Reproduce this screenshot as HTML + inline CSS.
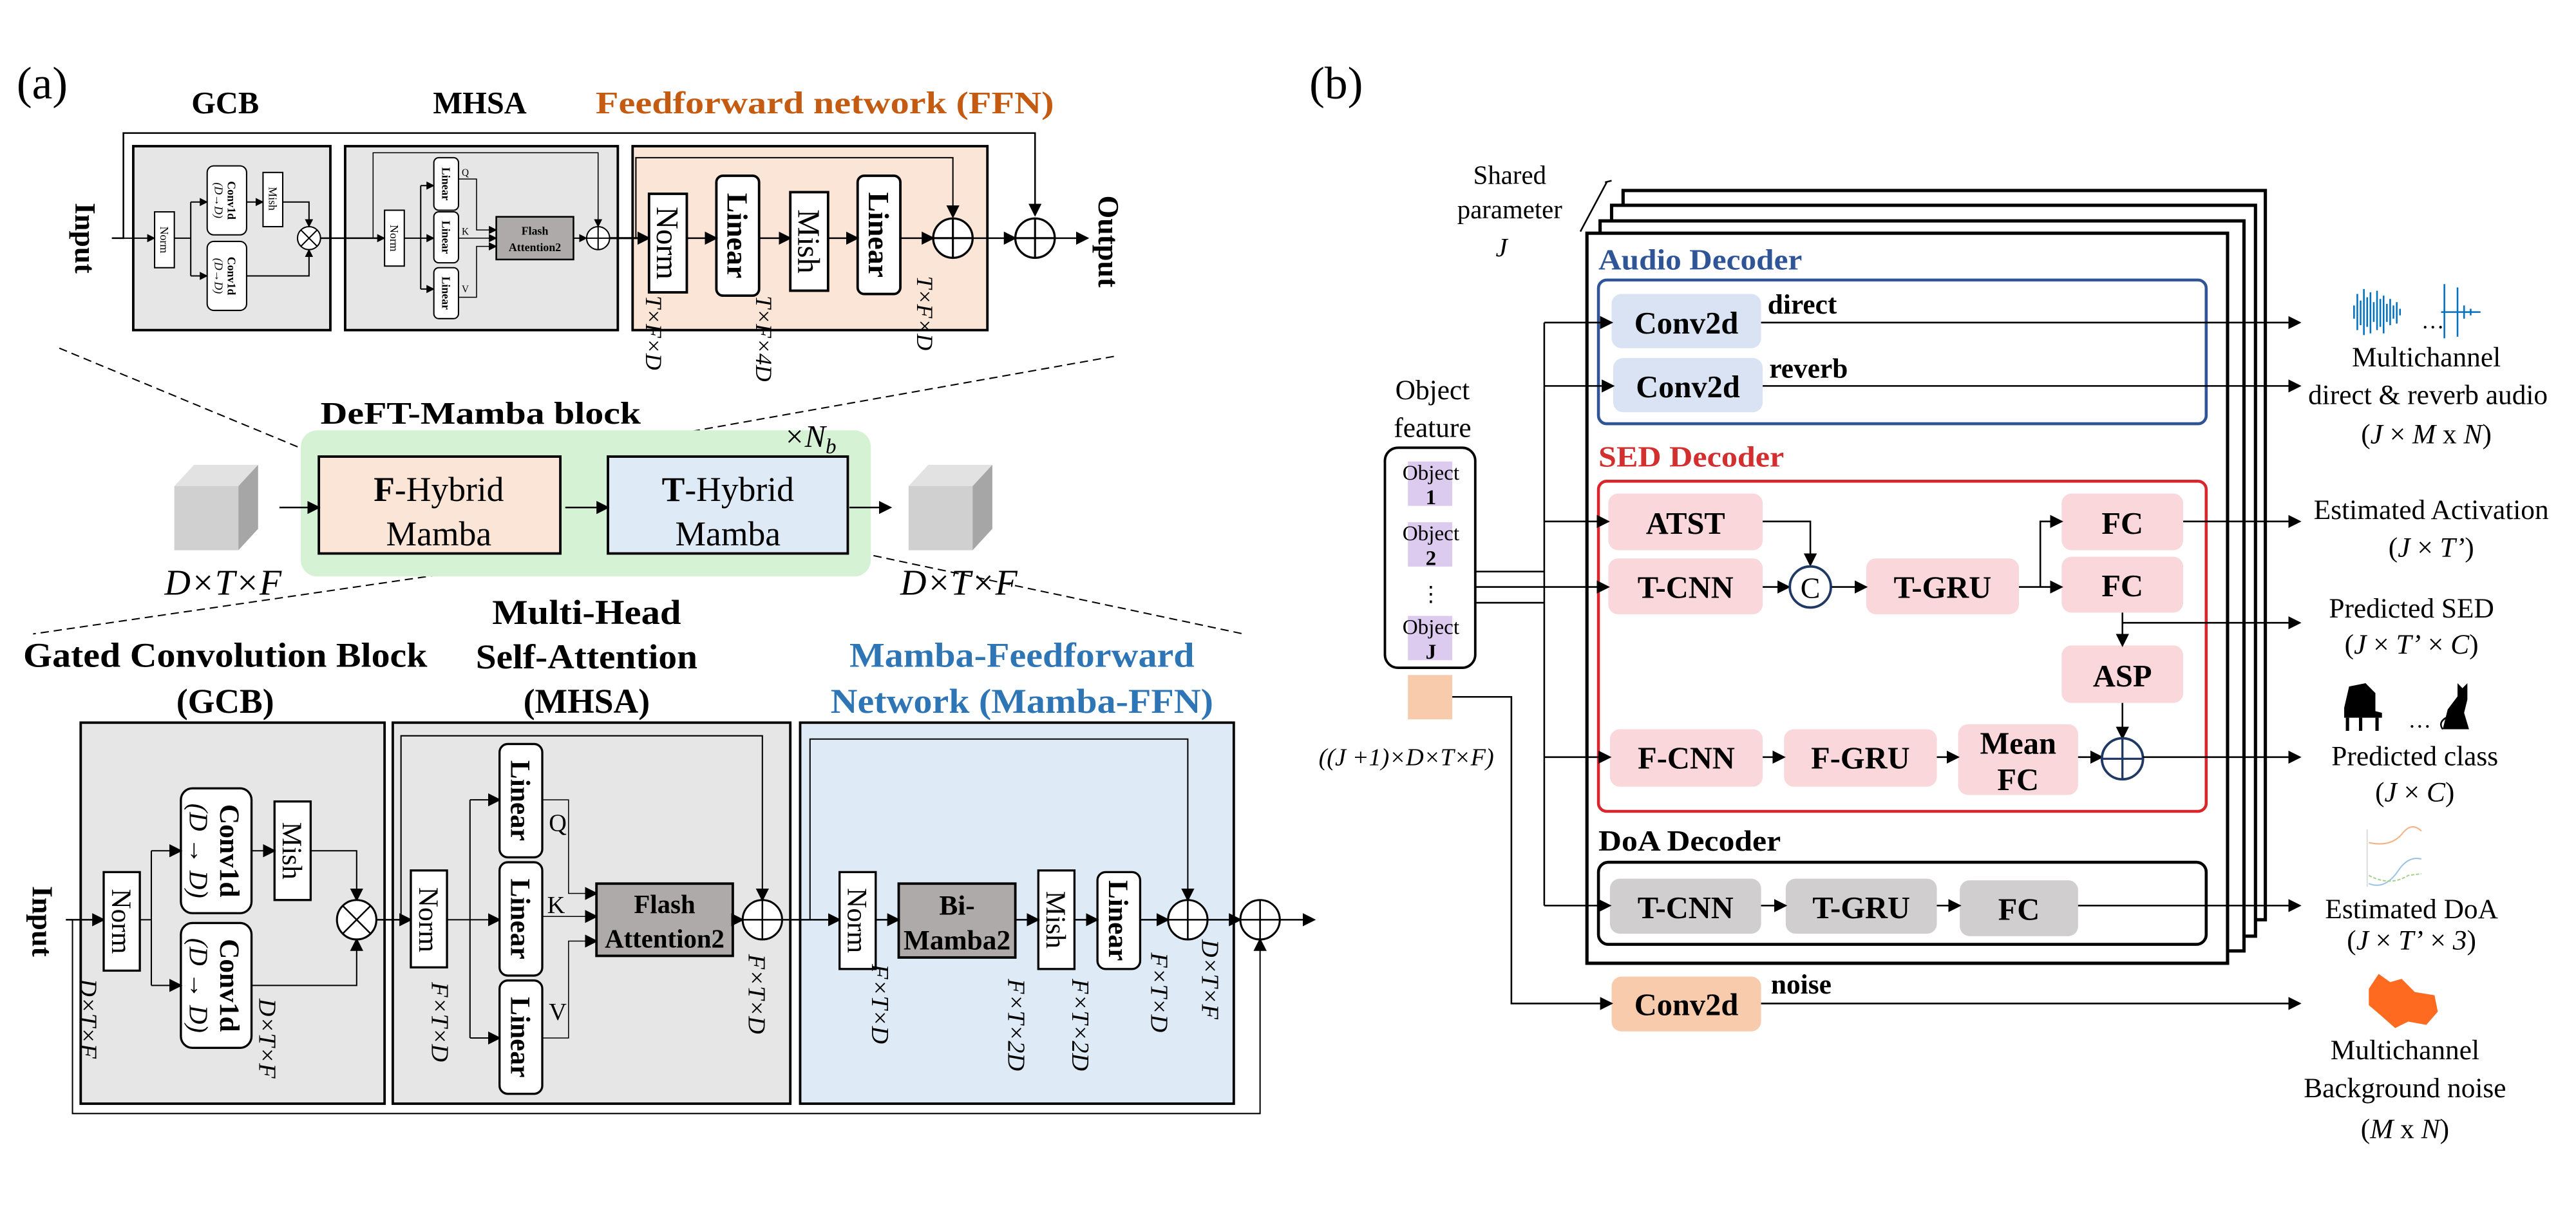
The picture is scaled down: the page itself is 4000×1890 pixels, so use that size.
<!DOCTYPE html>
<html><head><meta charset="utf-8"><style>
html,body{margin:0;padding:0;background:#fff;}
svg{display:block;}
text{font-family:"Liberation Serif",serif;}
.b{font-weight:bold;}
.i{font-style:italic;}
</style></head><body>
<svg width="4000" height="1890" viewBox="0 0 1568 741" xmlns="http://www.w3.org/2000/svg">
<defs>
<marker id="a" markerWidth="8" markerHeight="8" refX="7" refY="4" orient="auto" markerUnits="userSpaceOnUse"><path d="M0,0 L8,4 L0,8 z" fill="#000"/></marker>
<marker id="s" markerWidth="5" markerHeight="5" refX="4.5" refY="2.5" orient="auto" markerUnits="userSpaceOnUse"><path d="M0,0 L5,2.5 L0,5 z" fill="#000"/></marker>
</defs>
<rect width="1568" height="741" fill="#fff"/>

<!-- ========== (a) TOP ========== -->
<text x="10" y="60" font-size="28">(a)</text>
<text x="137" y="69" font-size="19" class="b" text-anchor="middle">GCB</text>
<text x="292" y="69" font-size="19" class="b" text-anchor="middle">MHSA</text>
<text x="502" y="69" font-size="19" class="b" text-anchor="middle" fill="#C55A11" textLength="279" lengthAdjust="spacingAndGlyphs">Feedforward network (FFN)</text>

<!-- boxes -->
<rect x="81" y="89" width="120" height="112" fill="#e7e6e6" stroke="#000" stroke-width="1.5"/>
<rect x="210" y="89" width="166" height="112" fill="#e7e6e6" stroke="#000" stroke-width="1.5"/>
<rect x="385" y="89" width="216" height="112" fill="#fbe5d6" stroke="#000" stroke-width="1.5"/>

<!-- outer skip -->
<polyline points="68,145 75,145 75,81 630,81 630,131" fill="none" stroke="#000" stroke-width="1" marker-end="url(#a)"/>
<text transform="translate(52,145) rotate(90)" font-size="18" class="b" text-anchor="middle" dy="0.35em">Input</text>
<line x1="68" y1="145" x2="94" y2="145" stroke="#000" stroke-width="0.8" marker-end="url(#s)"/>
<!-- GCB small -->
<rect x="94" y="129" width="12" height="34" fill="#fff" stroke="#000" stroke-width="0.8"/>
<text transform="translate(100,146) rotate(90)" font-size="7" text-anchor="middle" dy="0.35em">Norm</text>
<rect x="126" y="101" width="24" height="42" rx="4" fill="#fff" stroke="#000" stroke-width="0.8"/>
<rect x="126" y="147" width="24" height="42" rx="4" fill="#fff" stroke="#000" stroke-width="0.8"/>
<text transform="translate(141,122) rotate(90)" font-size="7" class="b" text-anchor="middle" dy="0.35em">Conv1d</text>
<text transform="translate(133,122) rotate(90)" font-size="7" class="i" text-anchor="middle" dy="0.35em">(D→D)</text>
<text transform="translate(141,168) rotate(90)" font-size="7" class="b" text-anchor="middle" dy="0.35em">Conv1d</text>
<text transform="translate(133,168) rotate(90)" font-size="7" class="i" text-anchor="middle" dy="0.35em">(D→D)</text>
<rect x="160" y="105" width="12" height="33" fill="#fff" stroke="#000" stroke-width="0.8"/>
<text transform="translate(166,121) rotate(90)" font-size="7" text-anchor="middle" dy="0.35em">Mish</text>
<polyline points="106,145 116,145" stroke="#000" stroke-width="0.8" fill="none"/>
<polyline points="116,123 116,168" stroke="#000" stroke-width="0.8" fill="none"/>
<line x1="116" y1="123" x2="126" y2="123" stroke="#000" stroke-width="0.8" marker-end="url(#s)"/>
<line x1="116" y1="168" x2="126" y2="168" stroke="#000" stroke-width="0.8" marker-end="url(#s)"/>
<line x1="150" y1="123" x2="160" y2="123" stroke="#000" stroke-width="0.8" marker-end="url(#s)"/>
<polyline points="172,123 188,123 188,138" stroke="#000" stroke-width="0.8" fill="none" marker-end="url(#s)"/>
<polyline points="150,168 188,168 188,152" stroke="#000" stroke-width="0.8" fill="none" marker-end="url(#s)"/>
<circle cx="188" cy="145" r="7" fill="#fff" stroke="#000" stroke-width="0.8"/>
<path d="M183,140 L193,150 M193,140 L183,150" stroke="#000" stroke-width="0.8"/>
<line x1="195" y1="145" x2="234" y2="145" stroke="#000" stroke-width="1" marker-end="url(#s)"/>
<!-- MHSA small -->
<polyline points="227,145 227,93 364,93 364,138" fill="none" stroke="#000" stroke-width="0.6" marker-end="url(#s)"/>
<rect x="234" y="128" width="12" height="34" fill="#fff" stroke="#000" stroke-width="0.8"/>
<text transform="translate(240,145) rotate(90)" font-size="7" text-anchor="middle" dy="0.35em">Norm</text>
<line x1="246" y1="145" x2="256" y2="145" stroke="#000" stroke-width="0.8"/>
<line x1="256" y1="113" x2="256" y2="176" stroke="#000" stroke-width="0.8"/>
<line x1="256" y1="113" x2="264" y2="113" stroke="#000" stroke-width="0.8" marker-end="url(#s)"/>
<line x1="256" y1="145" x2="264" y2="145" stroke="#000" stroke-width="0.8" marker-end="url(#s)"/>
<line x1="256" y1="176" x2="264" y2="176" stroke="#000" stroke-width="0.8" marker-end="url(#s)"/>
<rect x="264" y="96" width="15" height="32" rx="3" fill="#fff" stroke="#000" stroke-width="0.8"/>
<rect x="264" y="129" width="15" height="31" rx="3" fill="#fff" stroke="#000" stroke-width="0.8"/>
<rect x="264" y="163" width="15" height="31" rx="3" fill="#fff" stroke="#000" stroke-width="0.8"/>
<text transform="translate(271.5,112) rotate(90)" font-size="7" class="b" text-anchor="middle" dy="0.35em">Linear</text>
<text transform="translate(271.5,144.5) rotate(90)" font-size="7" class="b" text-anchor="middle" dy="0.35em">Linear</text>
<text transform="translate(271.5,178.5) rotate(90)" font-size="7" class="b" text-anchor="middle" dy="0.35em">Linear</text>
<polyline points="279,109 290,109 290,140 302,140" fill="none" stroke="#000" stroke-width="0.6" marker-end="url(#s)"/>
<line x1="279" y1="145" x2="302" y2="145" stroke="#000" stroke-width="0.6" marker-end="url(#s)"/>
<polyline points="279,181 290,181 290,150 302,150" fill="none" stroke="#000" stroke-width="0.6" marker-end="url(#s)"/>
<text x="281" y="107" font-size="6">Q</text><text x="281" y="143" font-size="6">K</text><text x="281" y="178" font-size="6">V</text>
<rect x="302" y="132" width="47" height="26" fill="#aeaaaa" stroke="#000" stroke-width="1"/>
<text x="325.5" y="143" font-size="7" class="b" text-anchor="middle">Flash</text>
<text x="325.5" y="153" font-size="7" class="b" text-anchor="middle">Attention2</text>
<line x1="349" y1="145" x2="357" y2="145" stroke="#000" stroke-width="0.8" marker-end="url(#s)"/>
<circle cx="364" cy="145" r="7" fill="#fff" stroke="#000" stroke-width="0.8"/>
<path d="M364,138 V152 M357,145 H371" stroke="#000" stroke-width="0.8"/>
<line x1="371" y1="145" x2="395" y2="145" stroke="#000" stroke-width="1.2" marker-end="url(#a)"/>
<!-- FFN -->
<polyline points="387,145 387,96 580,96 580,132" fill="none" stroke="#000" stroke-width="0.8" marker-end="url(#a)"/>
<rect x="395" y="118" width="23" height="60" fill="#fff" stroke="#000" stroke-width="1.5"/>
<text transform="translate(406.5,148) rotate(90)" font-size="19" text-anchor="middle" dy="0.35em">Norm</text>
<rect x="436" y="107" width="26" height="73" rx="4" fill="#fff" stroke="#000" stroke-width="1.5"/>
<text transform="translate(449,143.5) rotate(90)" font-size="18" class="b" text-anchor="middle" dy="0.35em">Linear</text>
<rect x="481" y="117" width="23" height="60" fill="#fff" stroke="#000" stroke-width="1.5"/>
<text transform="translate(492.5,147) rotate(90)" font-size="19" text-anchor="middle" dy="0.35em">Mish</text>
<rect x="522" y="107" width="26" height="72" rx="4" fill="#fff" stroke="#000" stroke-width="1.5"/>
<text transform="translate(535,143) rotate(90)" font-size="18" class="b" text-anchor="middle" dy="0.35em">Linear</text>
<line x1="418" y1="145" x2="436" y2="145" stroke="#000" stroke-width="1" marker-end="url(#a)"/>
<line x1="462" y1="145" x2="481" y2="145" stroke="#000" stroke-width="1" marker-end="url(#a)"/>
<line x1="504" y1="145" x2="522" y2="145" stroke="#000" stroke-width="1" marker-end="url(#a)"/>
<line x1="548" y1="145" x2="568" y2="145" stroke="#000" stroke-width="1" marker-end="url(#a)"/>
<circle cx="580" cy="145" r="12" fill="#fff" stroke="#000" stroke-width="1.3"/>
<path d="M580,133 V157 M568,145 H592" stroke="#000" stroke-width="1.2"/>
<line x1="592" y1="145" x2="618" y2="145" stroke="#000" stroke-width="1" marker-end="url(#a)"/>
<circle cx="630" cy="145" r="12" fill="#fff" stroke="#000" stroke-width="1.3"/>
<path d="M630,133 V157 M618,145 H642" stroke="#000" stroke-width="1.2"/>
<line x1="642" y1="145" x2="662" y2="145" stroke="#000" stroke-width="1" marker-end="url(#a)"/>
<text transform="translate(675,147) rotate(90)" font-size="18" class="b" text-anchor="middle" dy="0.35em">Output</text>
<text transform="translate(398,180) rotate(90)" font-size="14" class="i" dy="0.35em">T×F×D</text>
<text transform="translate(465,180) rotate(90)" font-size="14" class="i" dy="0.35em">T×F×4D</text>
<text transform="translate(563,168) rotate(90)" font-size="14" class="i" dy="0.35em">T×F×D</text>

<!-- dashed -->
<g stroke="#000" stroke-width="0.8" stroke-dasharray="5,3" fill="none">
<line x1="36" y1="212" x2="193" y2="277"/>
<line x1="678" y1="217" x2="340" y2="277"/>
<line x1="370" y1="335" x2="20" y2="386"/>
<line x1="516" y1="335" x2="757" y2="386"/>
</g>

<!-- DeFT block -->
<text x="195" y="258" font-size="19" class="b" textLength="195" lengthAdjust="spacingAndGlyphs">DeFT-Mamba block</text>
<rect x="183" y="262" width="347" height="89" rx="10" fill="#d6f2d4"/>
<text x="477" y="272" font-size="19" class="i">×N<tspan font-size="13" dy="4">b</tspan></text>
<rect x="194" y="278" width="147" height="59" fill="#fbe5d6" stroke="#000" stroke-width="1.5"/>
<rect x="370" y="278" width="146" height="59" fill="#deebf7" stroke="#000" stroke-width="1.5"/>
<text x="267" y="305" font-size="21" text-anchor="middle"><tspan class="b">F</tspan>-Hybrid</text>
<text x="267" y="332" font-size="21" text-anchor="middle">Mamba</text>
<text x="443" y="305" font-size="21" text-anchor="middle"><tspan class="b">T</tspan>-Hybrid</text>
<text x="443" y="332" font-size="21" text-anchor="middle">Mamba</text>
<line x1="170" y1="309" x2="194" y2="309" stroke="#000" stroke-width="1" marker-end="url(#a)"/>
<line x1="344" y1="309" x2="370" y2="309" stroke="#000" stroke-width="1" marker-end="url(#a)"/>
<line x1="517" y1="309" x2="542" y2="309" stroke="#000" stroke-width="1" marker-end="url(#a)"/>
<!-- cubes -->
<g>
<polygon points="106,296 145,296 145,335 106,335" fill="#d0d0d0"/>
<polygon points="106,296 118,283 157,283 145,296" fill="#e2e2e2"/>
<polygon points="145,296 157,283 157,322 145,335" fill="#a6a6a6"/>
<polygon points="553,296 592,296 592,335 553,335" fill="#d0d0d0"/>
<polygon points="553,296 565,283 604,283 592,296" fill="#e2e2e2"/>
<polygon points="592,296 604,283 604,322 592,335" fill="#a6a6a6"/>
</g>
<text x="100" y="362" font-size="22" class="i">D×T×F</text>
<text x="548" y="362" font-size="22" class="i">D×T×F</text>

<!-- ========== (a) BOTTOM ========== -->
<text x="357" y="380" font-size="21" class="b" text-anchor="middle" textLength="115" lengthAdjust="spacingAndGlyphs">Multi-Head</text>
<text x="357" y="407" font-size="21" class="b" text-anchor="middle" textLength="135" lengthAdjust="spacingAndGlyphs">Self-Attention</text>
<text x="357" y="434" font-size="21" class="b" text-anchor="middle">(MHSA)</text>
<text x="137" y="406" font-size="21" class="b" text-anchor="middle" textLength="246" lengthAdjust="spacingAndGlyphs">Gated Convolution Block</text>
<text x="137" y="434" font-size="21" class="b" text-anchor="middle">(GCB)</text>
<text x="622" y="406" font-size="21" class="b" text-anchor="middle" fill="#2e75b6" textLength="210" lengthAdjust="spacingAndGlyphs">Mamba-Feedforward</text>
<text x="622" y="434" font-size="21" class="b" text-anchor="middle" fill="#2e75b6" textLength="233" lengthAdjust="spacingAndGlyphs">Network (Mamba-FFN)</text>

<rect x="49" y="440" width="185" height="232" fill="#e7e6e6" stroke="#000" stroke-width="1.5"/>
<rect x="239" y="440" width="242" height="232" fill="#e7e6e6" stroke="#000" stroke-width="1.5"/>
<rect x="487" y="440" width="264" height="232" fill="#deebf7" stroke="#000" stroke-width="1.5"/>

<text transform="translate(26,561) rotate(90)" font-size="18" class="b" text-anchor="middle" dy="0.35em">Input</text>
<polyline points="40,560 44,560 44,678 767,678 767,572" fill="none" stroke="#000" stroke-width="0.8" marker-end="url(#a)"/>
<line x1="40" y1="560" x2="63" y2="560" stroke="#000" stroke-width="1" marker-end="url(#a)"/>
<!-- GCB big -->
<rect x="63" y="531" width="22" height="60" fill="#fff" stroke="#000" stroke-width="1.3"/>
<text transform="translate(74,561) rotate(90)" font-size="17" text-anchor="middle" dy="0.35em">Norm</text>
<rect x="110" y="480" width="43" height="76" rx="7" fill="#fff" stroke="#000" stroke-width="1.3"/>
<rect x="110" y="562" width="43" height="76" rx="7" fill="#fff" stroke="#000" stroke-width="1.3"/>
<text transform="translate(140,518) rotate(90)" font-size="17" class="b" text-anchor="middle" dy="0.35em">Conv1d</text>
<text transform="translate(121,518) rotate(90)" font-size="16" class="i" text-anchor="middle" dy="0.35em">(D → D)</text>
<text transform="translate(140,600) rotate(90)" font-size="17" class="b" text-anchor="middle" dy="0.35em">Conv1d</text>
<text transform="translate(121,600) rotate(90)" font-size="16" class="i" text-anchor="middle" dy="0.35em">(D → D)</text>
<rect x="167" y="488" width="22" height="60" fill="#fff" stroke="#000" stroke-width="1.3"/>
<text transform="translate(178,518) rotate(90)" font-size="17" text-anchor="middle" dy="0.35em">Mish</text>
<line x1="85" y1="560" x2="92" y2="560" stroke="#000" stroke-width="0.8"/>
<line x1="92" y1="518" x2="92" y2="600" stroke="#000" stroke-width="0.8"/>
<line x1="92" y1="518" x2="110" y2="518" stroke="#000" stroke-width="0.8" marker-end="url(#a)"/>
<line x1="92" y1="600" x2="110" y2="600" stroke="#000" stroke-width="0.8" marker-end="url(#a)"/>
<line x1="153" y1="518" x2="167" y2="518" stroke="#000" stroke-width="0.8" marker-end="url(#a)"/>
<polyline points="189,518 217,518 217,548" fill="none" stroke="#000" stroke-width="0.8" marker-end="url(#a)"/>
<polyline points="153,600 217,600 217,572" fill="none" stroke="#000" stroke-width="0.8" marker-end="url(#a)"/>
<circle cx="217" cy="560" r="12" fill="#fff" stroke="#000" stroke-width="1.2"/>
<path d="M208.5,551.5 L225.5,568.5 M225.5,551.5 L208.5,568.5" stroke="#000" stroke-width="1"/>
<line x1="229" y1="560" x2="250" y2="560" stroke="#000" stroke-width="1" marker-end="url(#a)"/>
<text transform="translate(54,596) rotate(90)" font-size="15" class="i" dy="0.35em">D×T×F</text>
<text transform="translate(163,608) rotate(90)" font-size="15" class="i" dy="0.35em">D×T×F</text>
<!-- MHSA big -->
<polyline points="244,560 244,448 464,448 464,548" fill="none" stroke="#000" stroke-width="0.8" marker-end="url(#a)"/>
<rect x="250" y="530" width="22" height="59" fill="#fff" stroke="#000" stroke-width="1.3"/>
<text transform="translate(261,560) rotate(90)" font-size="17" text-anchor="middle" dy="0.35em">Norm</text>
<line x1="272" y1="560" x2="286" y2="560" stroke="#000" stroke-width="0.8"/>
<line x1="286" y1="487" x2="286" y2="632" stroke="#000" stroke-width="0.8"/>
<line x1="286" y1="487" x2="304" y2="487" stroke="#000" stroke-width="0.8" marker-end="url(#a)"/>
<line x1="286" y1="560" x2="304" y2="560" stroke="#000" stroke-width="0.8" marker-end="url(#a)"/>
<line x1="286" y1="632" x2="304" y2="632" stroke="#000" stroke-width="0.8" marker-end="url(#a)"/>
<rect x="304" y="453" width="26" height="69" rx="5" fill="#fff" stroke="#000" stroke-width="1.3"/>
<rect x="304" y="525" width="26" height="69" rx="5" fill="#fff" stroke="#000" stroke-width="1.3"/>
<rect x="304" y="597" width="26" height="69" rx="5" fill="#fff" stroke="#000" stroke-width="1.3"/>
<text transform="translate(317,487.5) rotate(90)" font-size="17" class="b" text-anchor="middle" dy="0.35em">Linear</text>
<text transform="translate(317,559.5) rotate(90)" font-size="17" class="b" text-anchor="middle" dy="0.35em">Linear</text>
<text transform="translate(317,631.5) rotate(90)" font-size="17" class="b" text-anchor="middle" dy="0.35em">Linear</text>
<polyline points="330,487 346,487 346,544 363,544" fill="none" stroke="#000" stroke-width="0.6" marker-end="url(#a)"/>
<line x1="330" y1="558" x2="363" y2="558" stroke="#000" stroke-width="0.6" marker-end="url(#a)"/>
<polyline points="330,632 346,632 346,573 363,573" fill="none" stroke="#000" stroke-width="0.6" marker-end="url(#a)"/>
<text x="334" y="506" font-size="15">Q</text>
<text x="333" y="556" font-size="15">K</text>
<text x="334" y="621" font-size="15">V</text>
<rect x="363" y="538" width="83" height="44" fill="#aeaaaa" stroke="#000" stroke-width="1.5"/>
<text x="404.5" y="556" font-size="16" class="b" text-anchor="middle">Flash</text>
<text x="404.5" y="577" font-size="16" class="b" text-anchor="middle">Attention2</text>
<line x1="446" y1="560" x2="452" y2="560" stroke="#000" stroke-width="1" marker-end="url(#a)"/>
<circle cx="464" cy="560" r="12" fill="#fff" stroke="#000" stroke-width="1.2"/>
<path d="M464,548 V572 M452,560 H476" stroke="#000" stroke-width="1"/>
<line x1="476" y1="560" x2="511" y2="560" stroke="#000" stroke-width="1" marker-end="url(#a)"/>
<text transform="translate(268,598) rotate(90)" font-size="15" class="i" dy="0.35em">F×T×D</text>
<text transform="translate(461,581) rotate(90)" font-size="15" class="i" dy="0.35em">F×T×D</text>
<!-- Mamba-FFN big -->
<polyline points="493,560 493,450 723,450 723,548" fill="none" stroke="#000" stroke-width="0.8" marker-end="url(#a)"/>
<rect x="511" y="531" width="22" height="59" fill="#fff" stroke="#000" stroke-width="1.3"/>
<text transform="translate(522,560.5) rotate(90)" font-size="17" text-anchor="middle" dy="0.35em">Norm</text>
<rect x="547" y="538" width="71" height="45" fill="#aeaaaa" stroke="#000" stroke-width="1.5"/>
<text x="582.5" y="557" font-size="17" class="b" text-anchor="middle">Bi-</text>
<text x="582.5" y="578" font-size="17" class="b" text-anchor="middle">Mamba2</text>
<rect x="632" y="530" width="22" height="60" fill="#fff" stroke="#000" stroke-width="1.3"/>
<text transform="translate(643,560) rotate(90)" font-size="17" text-anchor="middle" dy="0.35em">Mish</text>
<rect x="668" y="531" width="26" height="59" rx="5" fill="#fff" stroke="#000" stroke-width="1.3"/>
<text transform="translate(681,560.5) rotate(90)" font-size="17" class="b" text-anchor="middle" dy="0.35em">Linear</text>
<line x1="533" y1="560" x2="547" y2="560" stroke="#000" stroke-width="1" marker-end="url(#a)"/>
<line x1="618" y1="560" x2="632" y2="560" stroke="#000" stroke-width="1" marker-end="url(#a)"/>
<line x1="654" y1="560" x2="668" y2="560" stroke="#000" stroke-width="1" marker-end="url(#a)"/>
<line x1="694" y1="560" x2="711" y2="560" stroke="#000" stroke-width="1" marker-end="url(#a)"/>
<circle cx="723" cy="560" r="12" fill="#fff" stroke="#000" stroke-width="1.2"/>
<path d="M723,548 V572 M711,560 H735" stroke="#000" stroke-width="1"/>
<line x1="735" y1="560" x2="755" y2="560" stroke="#000" stroke-width="1" marker-end="url(#a)"/>
<circle cx="767" cy="560" r="12" fill="#fff" stroke="#000" stroke-width="1.2"/>
<path d="M767,548 V572 M755,560 H779" stroke="#000" stroke-width="1"/>
<line x1="779" y1="560" x2="800" y2="560" stroke="#000" stroke-width="1" marker-end="url(#a)"/>
<text transform="translate(536,587) rotate(90)" font-size="15" class="i" dy="0.35em">F×T×D</text>
<text transform="translate(619,596) rotate(90)" font-size="15" class="i" dy="0.35em">F×T×2D</text>
<text transform="translate(658,596) rotate(90)" font-size="15" class="i" dy="0.35em">F×T×2D</text>
<text transform="translate(706,580) rotate(90)" font-size="15" class="i" dy="0.35em">F×T×D</text>
<text transform="translate(737,572) rotate(90)" font-size="15" class="i" dy="0.35em">D×T×F</text>

<!-- ========== (b) ========== -->
<text x="797" y="60" font-size="28">(b)</text>
<text x="919" y="112" font-size="16" text-anchor="middle">Shared</text>
<text x="919" y="133" font-size="16" text-anchor="middle">parameter</text>
<text x="914" y="156" font-size="16" class="i" text-anchor="middle">J</text>
<line x1="962" y1="141" x2="978" y2="111" stroke="#000" stroke-width="1"/>
<line x1="977" y1="111" x2="981" y2="110" stroke="#000" stroke-width="1"/>

<!-- stacked boxes -->
<rect x="988" y="116" width="391" height="444" fill="#fff" stroke="#000" stroke-width="2"/>
<rect x="981" y="125" width="392" height="445" fill="#fff" stroke="#000" stroke-width="2"/>
<rect x="974" y="134.5" width="392" height="444.5" fill="#fff" stroke="#000" stroke-width="2"/>
<rect x="966" y="142" width="390" height="444.5" fill="#fff" stroke="#000" stroke-width="2"/>

<text x="973" y="164" font-size="18" class="b" fill="#2f5597" textLength="124" lengthAdjust="spacingAndGlyphs">Audio Decoder</text>
<rect x="973" y="170.5" width="370" height="87.5" rx="5" fill="none" stroke="#2f5597" stroke-width="1.8"/>
<rect x="981" y="179" width="91" height="33" rx="6" fill="#dae3f3"/>
<rect x="982" y="218" width="91" height="33" rx="6" fill="#dae3f3"/>
<text x="1026.5" y="203" font-size="19" class="b" text-anchor="middle">Conv2d</text>
<text x="1027.5" y="242" font-size="19" class="b" text-anchor="middle">Conv2d</text>
<text x="1076" y="191" font-size="17" class="b">direct</text>
<text x="1077" y="230" font-size="17" class="b">reverb</text>
<line x1="1072" y1="196.4" x2="1400" y2="196.4" stroke="#000" stroke-width="1" marker-end="url(#a)"/>
<line x1="1073" y1="235" x2="1400" y2="235" stroke="#000" stroke-width="1" marker-end="url(#a)"/>

<text x="973" y="284" font-size="18" class="b" fill="#d32f2f" textLength="113" lengthAdjust="spacingAndGlyphs">SED Decoder</text>
<rect x="973" y="293" width="370" height="201" rx="5" fill="none" stroke="#d9262c" stroke-width="1.8"/>
<g fill="#f9d7da">
<rect x="979" y="300.5" width="94" height="34.5" rx="6"/>
<rect x="979" y="340" width="94" height="34" rx="6"/>
<rect x="1136" y="340" width="93" height="34" rx="6"/>
<rect x="1255" y="300.5" width="74" height="34.5" rx="6"/>
<rect x="1255" y="339" width="74" height="34" rx="6"/>
<rect x="1255" y="393" width="74" height="35" rx="6"/>
<rect x="980" y="444" width="93" height="35" rx="6"/>
<rect x="1086" y="444" width="93" height="35" rx="6"/>
<rect x="1192" y="441" width="73" height="43" rx="6"/>
</g>
<g font-size="19" class="b" text-anchor="middle">
<text x="1026" y="325">ATST</text>
<text x="1026" y="364">T-CNN</text>
<text x="1182.5" y="364">T-GRU</text>
<text x="1292" y="325">FC</text>
<text x="1292" y="363">FC</text>
<text x="1292" y="418">ASP</text>
<text x="1026.5" y="468">F-CNN</text>
<text x="1132.5" y="468">F-GRU</text>
<text x="1228.5" y="459">Mean</text>
<text x="1228.5" y="481">FC</text>
</g>
<polyline points="1073,317.5 1102,317.5 1102,344" fill="none" stroke="#000" stroke-width="1" marker-end="url(#a)"/>
<line x1="1073" y1="357.4" x2="1089" y2="357.4" stroke="#000" stroke-width="1" marker-end="url(#a)"/>
<circle cx="1102" cy="357.4" r="12.5" fill="#fff" stroke="#1f3864" stroke-width="1.5"/>
<text x="1102" y="364" font-size="18" text-anchor="middle">C</text>
<line x1="1115" y1="357.4" x2="1136" y2="357.4" stroke="#000" stroke-width="1" marker-end="url(#a)"/>
<line x1="1229" y1="357.4" x2="1255" y2="357.4" stroke="#000" stroke-width="1" marker-end="url(#a)"/>
<polyline points="1242,357.4 1242,317.5 1255,317.5" fill="none" stroke="#000" stroke-width="1" marker-end="url(#a)"/>
<line x1="1329" y1="317.5" x2="1400" y2="317.5" stroke="#000" stroke-width="1" marker-end="url(#a)"/>
<line x1="1292" y1="373" x2="1292" y2="393" stroke="#000" stroke-width="1" marker-end="url(#a)"/>
<line x1="1292" y1="379.2" x2="1400" y2="379.2" stroke="#000" stroke-width="1" marker-end="url(#a)"/>
<line x1="1292" y1="428" x2="1292" y2="449.5" stroke="#000" stroke-width="1" marker-end="url(#a)"/>
<line x1="1073" y1="461" x2="1086" y2="461" stroke="#000" stroke-width="1" marker-end="url(#a)"/>
<line x1="1179" y1="461" x2="1192" y2="461" stroke="#000" stroke-width="1" marker-end="url(#a)"/>
<line x1="1265" y1="461" x2="1279.5" y2="461" stroke="#000" stroke-width="1" marker-end="url(#a)"/>
<circle cx="1292" cy="462" r="12.5" fill="#fff" stroke="#1f3864" stroke-width="1.5"/>
<path d="M1292,449.5 V474.5 M1279.5,462 H1304.5" stroke="#1f3864" stroke-width="1.3"/>
<line x1="1304.5" y1="461" x2="1400" y2="461" stroke="#000" stroke-width="1" marker-end="url(#a)"/>

<text x="973" y="518" font-size="18" class="b" textLength="111" lengthAdjust="spacingAndGlyphs">DoA Decoder</text>
<rect x="973" y="525" width="370" height="50" rx="6" fill="none" stroke="#000" stroke-width="1.8"/>
<g fill="#d0cece">
<rect x="980" y="535" width="92" height="33.5" rx="6"/>
<rect x="1087" y="535" width="92" height="33.5" rx="6"/>
<rect x="1193" y="536" width="72" height="34" rx="6"/>
</g>
<g font-size="19" class="b" text-anchor="middle">
<text x="1026" y="559">T-CNN</text>
<text x="1133" y="559">T-GRU</text>
<text x="1229" y="560">FC</text>
</g>
<line x1="1072" y1="551.4" x2="1087" y2="551.4" stroke="#000" stroke-width="1" marker-end="url(#a)"/>
<line x1="1179" y1="551.4" x2="1193" y2="551.4" stroke="#000" stroke-width="1" marker-end="url(#a)"/>
<line x1="1265" y1="551.4" x2="1400" y2="551.4" stroke="#000" stroke-width="1" marker-end="url(#a)"/>

<!-- noise -->
<rect x="981" y="594.6" width="91" height="33.4" rx="6" fill="#f8cbad"/>
<text x="1026.5" y="618" font-size="19" class="b" text-anchor="middle">Conv2d</text>
<text x="1078" y="605" font-size="17" class="b">noise</text>
<line x1="1072" y1="611" x2="1400" y2="611" stroke="#000" stroke-width="1" marker-end="url(#a)"/>

<!-- object feature -->
<text x="872" y="243" font-size="17" text-anchor="middle">Object</text>
<text x="872" y="266" font-size="17" text-anchor="middle">feature</text>
<rect x="843" y="272.6" width="55" height="134" rx="8" fill="#fff" stroke="#000" stroke-width="1.5"/>
<g fill="#dccbee">
<rect x="857" y="281" width="27" height="27"/>
<rect x="857" y="318" width="27" height="27"/>
<rect x="857" y="375" width="27" height="27"/>
</g>
<g font-size="13" text-anchor="middle">
<text x="871" y="292">Object</text><text x="871" y="307" class="b">1</text>
<text x="871" y="329">Object</text><text x="871" y="344" class="b">2</text>
<text x="871" y="386">Object</text><text x="871" y="401" class="b">J</text>
</g>
<text x="871" y="366" font-size="13" text-anchor="middle">⋮</text>
<rect x="857" y="411" width="27" height="27" fill="#f8cbad"/>
<text x="856" y="466" font-size="15" class="i" text-anchor="middle">((J +1)×D×T×F)</text>

<!-- feed lines -->
<line x1="898" y1="348" x2="940" y2="348" stroke="#000" stroke-width="1"/>
<line x1="898" y1="357.4" x2="979" y2="357.4" stroke="#000" stroke-width="1" marker-end="url(#a)"/>
<line x1="898" y1="367" x2="940" y2="367" stroke="#000" stroke-width="1"/>
<line x1="940" y1="196.4" x2="940" y2="551.4" stroke="#000" stroke-width="1"/>
<line x1="940" y1="196.4" x2="981" y2="196.4" stroke="#000" stroke-width="1" marker-end="url(#a)"/>
<line x1="940" y1="235" x2="982" y2="235" stroke="#000" stroke-width="1" marker-end="url(#a)"/>
<line x1="940" y1="317.5" x2="979" y2="317.5" stroke="#000" stroke-width="1" marker-end="url(#a)"/>
<line x1="940" y1="461" x2="980" y2="461" stroke="#000" stroke-width="1" marker-end="url(#a)"/>
<line x1="940" y1="551.4" x2="980" y2="551.4" stroke="#000" stroke-width="1" marker-end="url(#a)"/>
<polyline points="884,424.3 920,424.3 920,611 981,611" fill="none" stroke="#000" stroke-width="1" marker-end="url(#a)"/>

<!-- right labels -->
<g font-size="17" text-anchor="middle">
<text x="1477" y="223">Multichannel</text>
<text x="1478" y="246">direct &amp; reverb audio</text>
<text x="1477" y="270">(<tspan class="i">J</tspan> × <tspan class="i">M</tspan> x <tspan class="i">N</tspan>)</text>
<text x="1480" y="316">Estimated Activation</text>
<text x="1480" y="339">(<tspan class="i">J</tspan> × <tspan class="i">T’</tspan>)</text>
<text x="1468" y="376">Predicted SED</text>
<text x="1468" y="398">(<tspan class="i">J</tspan> × <tspan class="i">T’</tspan> × <tspan class="i">C</tspan>)</text>
<text x="1470" y="466">Predicted class</text>
<text x="1470" y="488">(<tspan class="i">J</tspan> × <tspan class="i">C</tspan>)</text>
<text x="1468" y="559">Estimated DoA</text>
<text x="1468" y="578">(<tspan class="i">J</tspan> × <tspan class="i">T’</tspan> × <tspan class="i">3</tspan>)</text>
<text x="1464" y="645">Multichannel</text>
<text x="1464" y="668">Background noise</text>
<text x="1464" y="693">(<tspan class="i">M</tspan> x <tspan class="i">N</tspan>)</text>
</g>
<!-- waveform icons -->
<g stroke="#0070c0" stroke-width="1">
<path d="M1433,186 V194 M1435,179 V201 M1437,183 V198 M1439,176 V204 M1441,181 V199 M1443,178 V203 M1445,184 V196 M1447,177 V201 M1449,182 V199 M1451,180 V203 M1453,185 V196 M1455,182 V198 M1457,186 V194 M1459,184 V197 M1461,188 V192"/>
<path d="M1488,173 V206 M1496,175 V205 M1486,190 H1510 M1500,186 V194 M1504,188 V192"/>
</g>
<text x="1474" y="200" font-size="14">…</text>
<!-- piano & cat -->
<g fill="#000">
<path d="M1427,431 L1430,418 L1440,416 L1446,422 L1446,433 L1450,434 L1450,437 L1427,437 Z"/>
<rect x="1428" y="437" width="2" height="8"/><rect x="1436" y="437" width="2" height="8"/><rect x="1446" y="437" width="2" height="8"/>
<path d="M1487,444 L1490,432 L1496,424 L1496,416 L1499,419 L1502,416 L1502,426 L1500,434 L1503,444 Z"/>
<path d="M1487,444 Q1484,440 1489,437" stroke="#000" fill="none"/>
</g>
<text x="1466" y="443" font-size="14">…</text>
<!-- DoA plot icon -->
<g fill="none" stroke-width="0.8">
<path d="M1442,513 Q1455,516 1462,508 Q1468,500 1474,506" stroke="#f4b183"/>
<path d="M1442,538 Q1452,542 1460,530 Q1466,521 1474,523" stroke="#9dc3e6"/>
<path d="M1442,533 Q1455,540 1466,533 L1474,532" stroke="#a9d18e" stroke-dasharray="2,1"/>
<line x1="1441" y1="505" x2="1441" y2="540" stroke="#ddd"/>
</g>
<!-- noise icon -->
<path d="M1442,602 L1448,593 L1455,598 L1462,596 L1470,604 L1482,606 L1484,616 L1477,624 L1466,622 L1458,626 L1449,618 L1442,612 Z" fill="#ff6a21"/>
</svg>
</body></html>
